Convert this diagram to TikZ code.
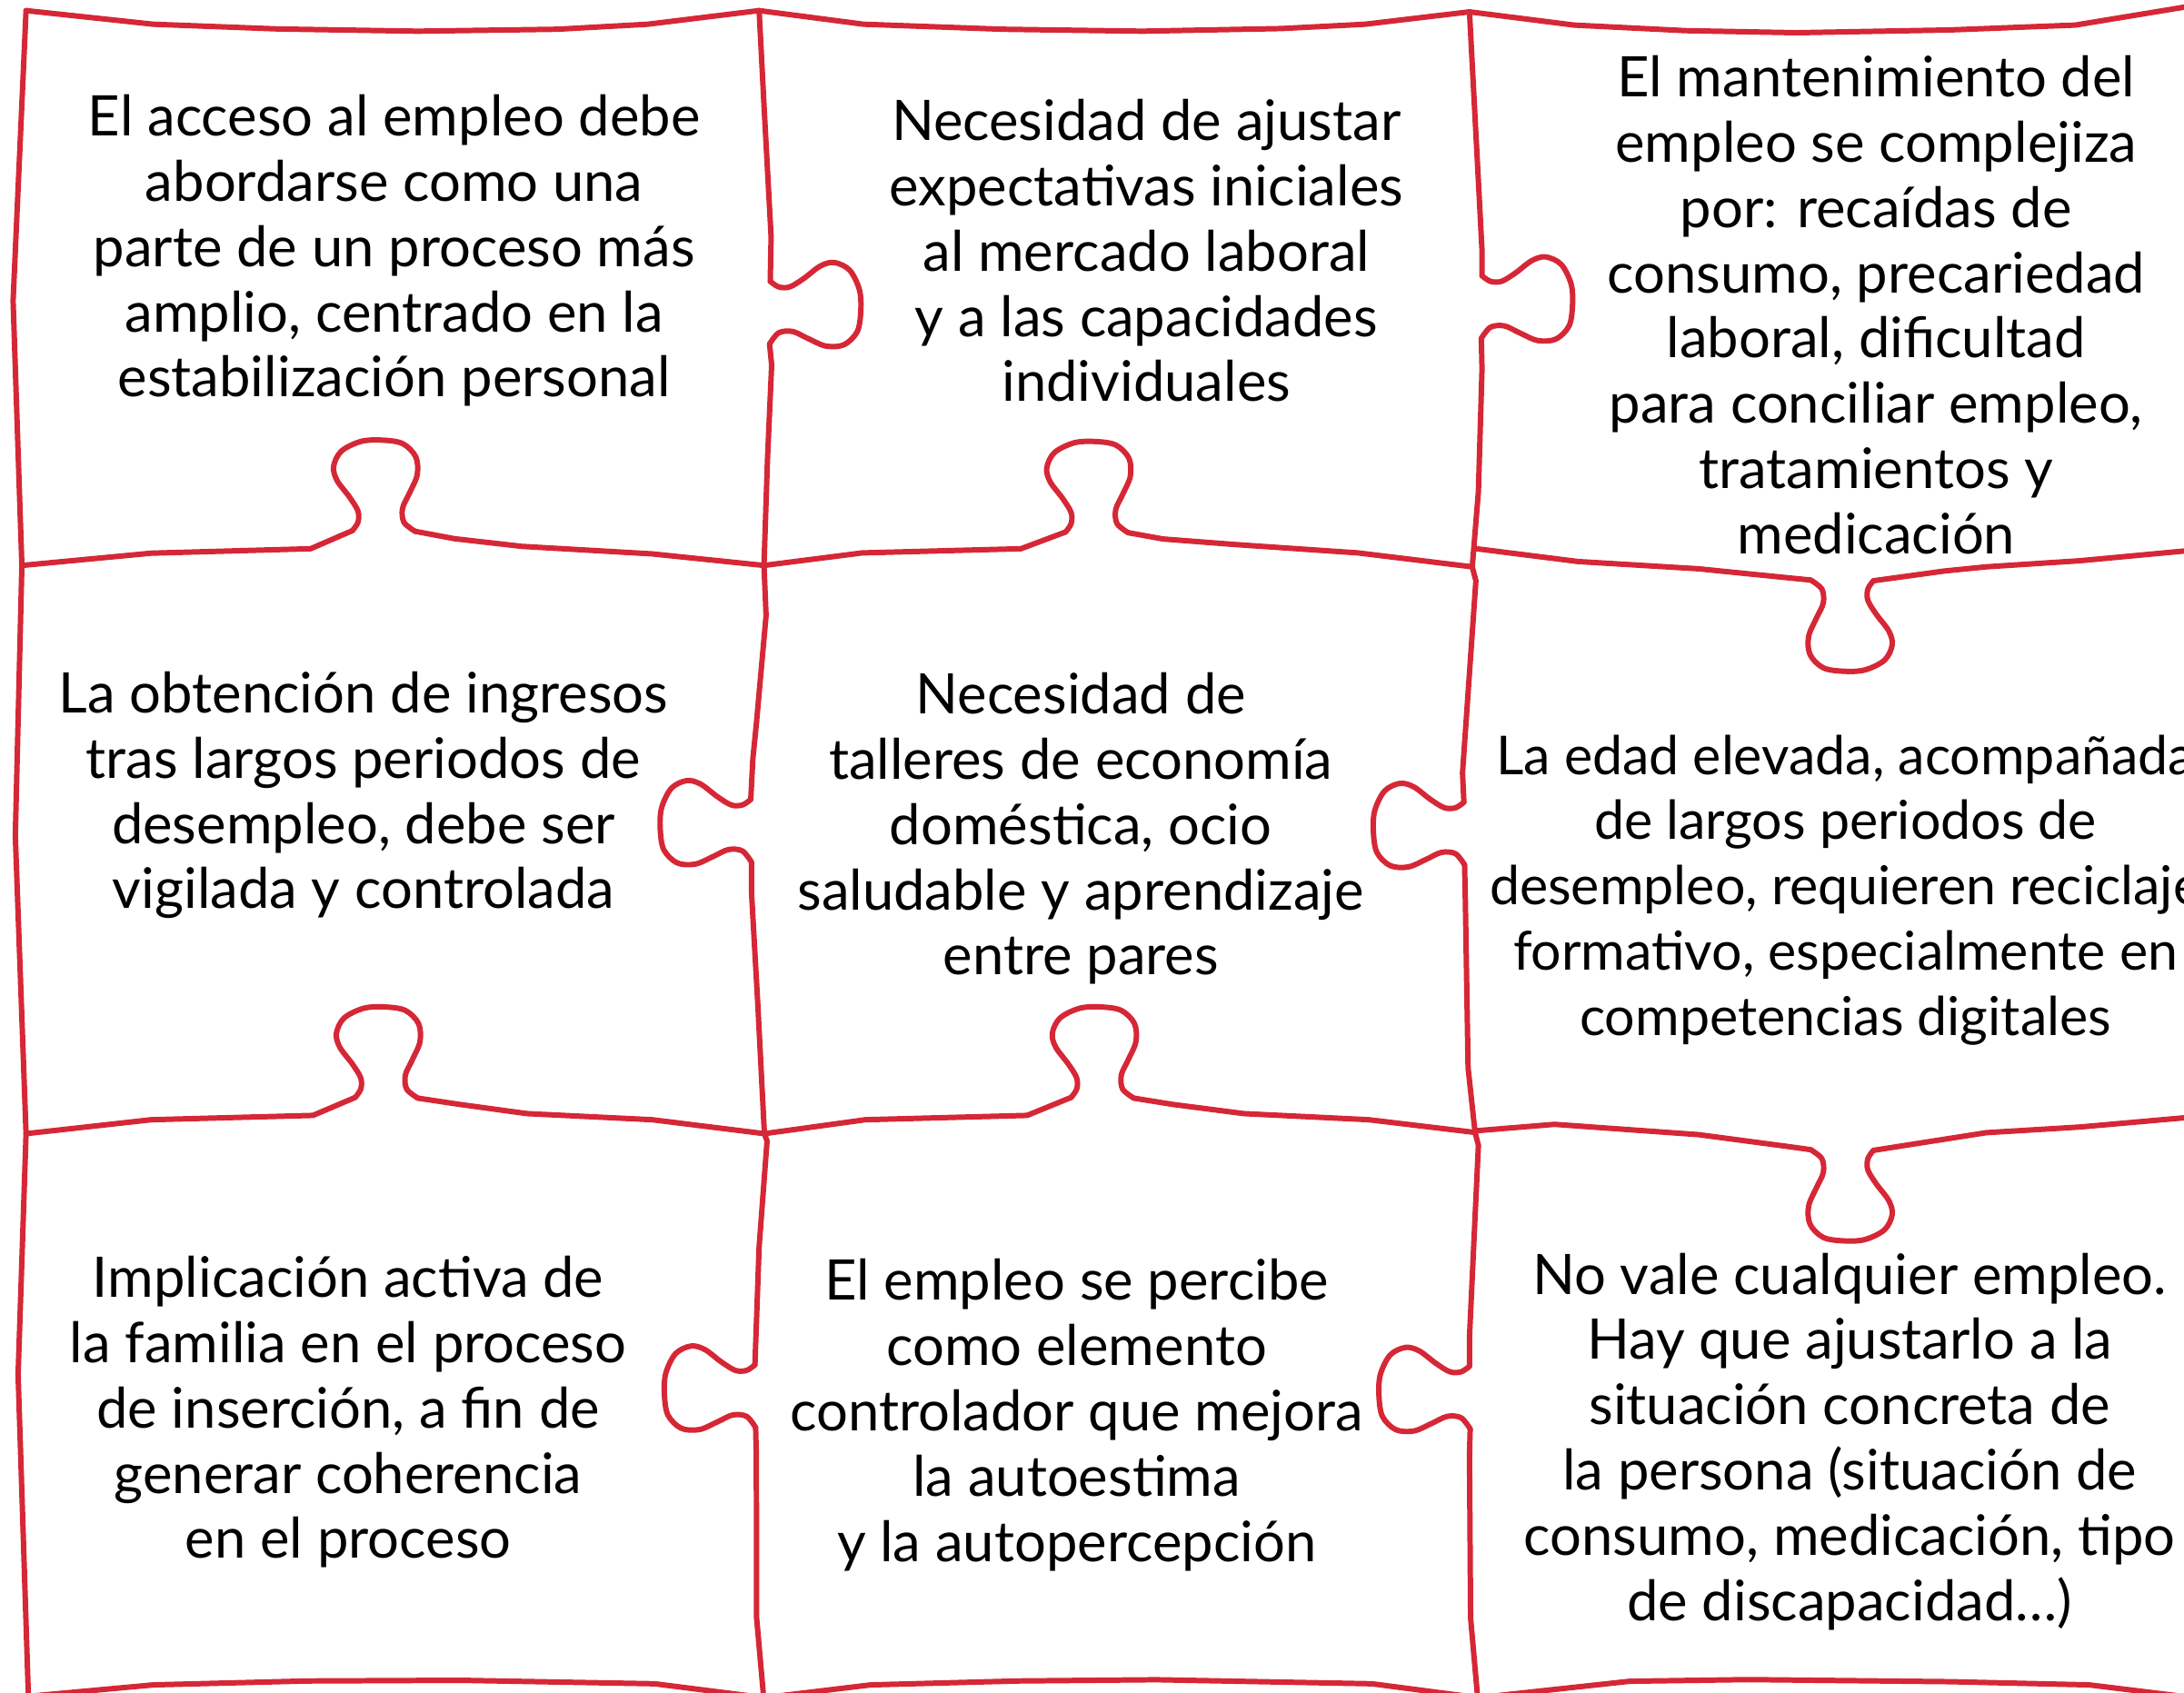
\documentclass[tikz,border=0pt]{standalone}
\usepackage{fontspec}
\setmainfont{Lato}
\usetikzlibrary{positioning}
\definecolor{puzzlered}{RGB}{214,39,54}

% knob drawn pointing up; #1 name, (#2,#3) neck centre, #4 turn
\newcommand{\knob}[4]{%
  \begin{scope}[shift={(#2,#3)},#4]
    \draw [piece] plot [smooth, tension=0.55] coordinates {(-20,1) (-16,-5) (-16,-13) (-22,-23) (-31,-35) (-33.5,-45) (-28,-56) (-14,-63) (1,-64) (16,-61.5) (25.5,-52) (26.5,-39) (21,-26) (16,-15) (17,-5) (25,1.5)};
    \coordinate (#1a) at (-20,1);
    \coordinate (#1b) at (25,1.5);
  \end{scope}}

\begin{document}
\begin{tikzpicture}[x=0.015325cm, y=-0.015325cm]
\tikzstyle{every node}+=[inner sep=0pt]
\tikzstyle{piece}=[draw=puzzlered, line width=1.7pt, line cap=round, line join=round]
\tikzstyle{txt}=[align=center, font=\fontsize{17.5}{20.42}\selectfont]
\useasboundingbox (0,0) rectangle (1568,1215);
\clip (0,0) rectangle (1568,1215);
% knobs
\knob{ka}{273}{380}{rotate=0}
\knob{kb}{785}{381}{rotate=0}
\knob{kc}{1325}{418}{rotate=180}
\knob{kd}{275}{787}{rotate=0}
\knob{ke}{789}{787}{rotate=0}
\knob{kf}{1325}{827}{rotate=180}
\knob{kg}{554}{222}{rotate=-90}
\knob{kh}{1065}{218}{rotate=-90}
\knob{ki}{538}{594}{rotate=90,xscale=-1}
\knob{kj}{1050}{596}{rotate=90,xscale=-1}
\knob{kk}{541}{1000}{rotate=90,xscale=-1}
\knob{kl}{1054}{1001}{rotate=90,xscale=-1}
% outer edges
\draw [piece] (18.7,7.6) -- (9.4,216) -- (15.7,406) -- (11,600) -- (18.7,814) -- (13,987) -- (20.6,1225);
\draw [piece] (18.7,7.6) -- (110,17.4) -- (200,20.8) -- (300,22.4) -- (400,21) -- (465,17.4) -- (545,7.6) -- (620,17.4) -- (720,21) -- (820,22.4) -- (920,20.5) -- (980,17.4) -- (1055,8.5) -- (1130,18) -- (1210,22) -- (1290,23.5) -- (1400,21.5) -- (1490,18) -- (1575,4);
\draw [piece] (20.6,1218) -- (110,1209.8) -- (220,1207) -- (330,1206.5) -- (470,1209) -- (548.8,1219) -- (625,1209.8) -- (730,1207) -- (830,1206.1) -- (985,1209) -- (1061.4,1219) -- (1170,1207.2) -- (1255,1206) -- (1400,1207.5) -- (1500,1209.8) -- (1575,1219);
% row 1 / row 2
\draw [piece] (15.7,406) -- (108.6,397.2) -- (223,394) -- (kaa);
\draw [piece] (kab) -- (326.3,386.8) -- (374.6,392.3) -- (468.2,397.7) -- (548.5,406);
\draw [piece] (548.5,406) -- (619,397) -- (733,394) -- (kba);
\draw [piece] (kbb) -- (835,387) -- (887,391) -- (975,397) -- (1057,407);
\draw [piece] (1060,394) -- (1133,403.2) -- (1219.4,408.4) -- (1279,414.4) -- (kcb);
\draw [piece] (kca) -- (1396,410) -- (1426,407) -- (1493.6,402.6) -- (1575,395);
% row 2 / row 3
\draw [piece] (18.7,814) -- (108.6,804) -- (224.7,800.9) -- (kda);
\draw [piece] (kdb) -- (330,793) -- (378.3,799.6) -- (468.3,804) -- (548.8,814);
\draw [piece] (548.8,814) -- (621.3,804) -- (737.4,800.9) -- (kea);
\draw [piece] (keb) -- (842,793) -- (892.9,799.6) -- (982.7,804) -- (1058,813);
\draw [piece] (1059,812) -- (1116,807.3) -- (1219.4,814.7) -- (1282,823) -- (kfb);
\draw [piece] (kfa) -- (1396,818) -- (1426,813.3) -- (1493.6,809.2) -- (1575,802);
% column 1 / column 2
\draw [piece] (545,7.6) -- (548.8,81) -- (553.6,170) -- (kga);
\draw [piece] (kgb) -- (554,262) -- (551,330) -- (548.5,406);
\draw [piece] (548.5,406) -- (550,442) -- (543,520) -- (540.5,545) -- (kia);
\draw [piece] (kib) -- (539.5,640) -- (544,720) -- (548.8,814);
\draw [piece] (548.8,814) -- (550.7,819.3) -- (545,895.3) -- (kka);
\draw [piece] (kkb) -- (543,1045) -- (543.2,1161.7) -- (548.8,1225);
% column 2 / column 3
\draw [piece] (1055,8.5) -- (1061.4,130) -- (1064,180) -- (kha);
\draw [piece] (khb) -- (1064,265) -- (1061.4,353) -- (1057,407);
\draw [piece] (1057,407) -- (1059.6,417) -- (1050,555) -- (kja);
\draw [piece] (kjb) -- (1052,645) -- (1054,766.7) -- (1059,813);
\draw [piece] (1059,813) -- (1061.4,822.4) -- (1055,960) -- (kla);
\draw [piece] (klb) -- (1055,1045) -- (1055.8,1161.7) -- (1061.4,1225);
% texts
\node [txt] (acceso) at (283,180) {El acceso al empleo debe\\abordarse como una\\parte de un proceso más\\amplio, centrado en la\\estabilización personal};
\node [txt] (ajuste) at (823,180) {Necesidad de ajustar\\expectativas iniciales\\al mercado laboral\\y a las capacidades\\individuales};
\node [txt] (mantenimiento) at (1347,219) {El mantenimiento del\\empleo se complejiza\\por: recaídas de\\consumo, precariedad\\laboral, dificultad\\para conciliar empleo,\\tratamientos y\\medicación};
\node [txt] (ingresos) at (261,571) {La obtención de ingresos\\tras largos periodos de\\desempleo, debe ser\\vigilada y controlada};
\node [txt] (talleres) at (776,595) {Necesidad de\\talleres de economía\\doméstica, ocio\\saludable y aprendizaje\\entre pares};
\node [txt, font=\fontsize{16.8}{20.42}\selectfont] (edad) at (1325,639) {La edad elevada, acompañada\\de largos periodos de\\desempleo, requieren reciclaje\\formativo, especialmente en\\competencias digitales};
\node [txt] (familia) at (250,1014) {Implicación activa de\\la familia en el proceso\\de inserción, a fin de\\generar coherencia\\en el proceso};
\node [txt] (autoestima) at (773,1016) {El empleo se percibe\\como elemento\\controlador que mejora\\la autoestima\\y la autopercepción};
\node [txt] (situacion) at (1328,1035) {No vale cualquier empleo.\\Hay que ajustarlo a la\\situación concreta de\\la persona (situación de\\consumo, medicación, tipo\\de discapacidad…)};
\end{tikzpicture}
\end{document}
